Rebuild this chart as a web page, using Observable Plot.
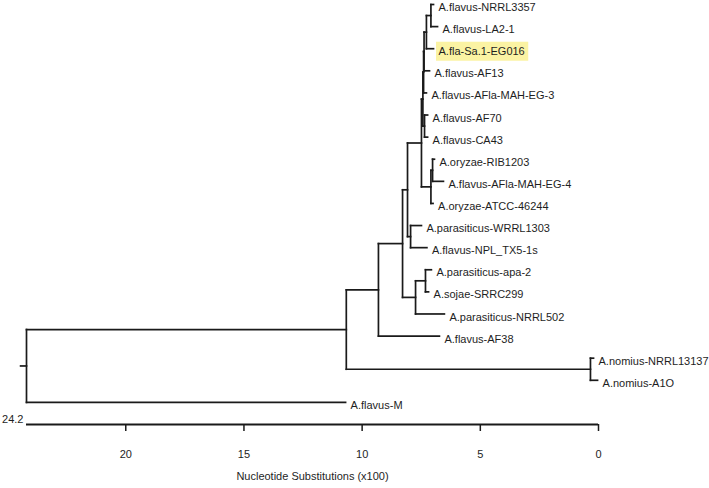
<!DOCTYPE html>
<html><head><meta charset="utf-8">
<script src="https://cdn.jsdelivr.net/npm/d3@7"></script>
<script src="https://cdn.jsdelivr.net/npm/@observablehq/plot@0.6"></script>
<style>
body{margin:0;background:#fff;}
</style></head><body><div id="chart"></div>
<script>
// Leaves (top to bottom) and their branch-tip positions (nucleotide substitutions x100)
const leafNames = [
  "A.flavus-NRRL3357","A.flavus-LA2-1","A.fla-Sa.1-EG016","A.flavus-AF13",
  "A.flavus-AFla-MAH-EG-3","A.flavus-AF70","A.flavus-CA43","A.oryzae-RIB1203",
  "A.flavus-AFla-MAH-EG-4","A.oryzae-ATCC-46244","A.parasiticus-WRRL1303",
  "A.flavus-NPL_TX5-1s","A.parasiticus-apa-2","A.sojae-SRRC299",
  "A.parasiticus-NRRL502","A.flavus-AF38","A.nomius-NRRL13137","A.nomius-A1O","A.flavus-M"
];
const leafDist = [6.98,6.81,6.98,7.15,7.28,7.23,7.23,6.94,6.56,7.00,7.49,7.26,7.07,7.19,6.52,6.73,0.21,0.04,10.70];

// Internal nodes (children listed before parents), with node positions
const nodeIds = ["n1","n2","n3","n4","n5","U","pr","O","F","W","P","AS","Q","Q2","R","N","S","root"];
const nodeChildren = [
  ["A.flavus-NRRL3357","A.flavus-LA2-1"],
  ["n1","A.fla-Sa.1-EG016"],
  ["n2","A.flavus-AF13"],
  ["n3","A.flavus-AFla-MAH-EG-3"],
  ["A.flavus-AF70","A.flavus-CA43"],
  ["n4","n5"],
  ["A.oryzae-RIB1203","A.flavus-AFla-MAH-EG-4"],
  ["pr","A.oryzae-ATCC-46244"],
  ["U","O"],
  ["A.parasiticus-WRRL1303","A.flavus-NPL_TX5-1s"],
  ["F","W"],
  ["A.parasiticus-apa-2","A.sojae-SRRC299"],
  ["AS","A.parasiticus-NRRL502"],
  ["P","Q"],
  ["Q2","A.flavus-AF38"],
  ["A.nomius-NRRL13137","A.nomius-A1O"],
  ["R","N"],
  ["S","A.flavus-M"]
];
const nodeDist = [7.09,7.28,7.38,7.40,7.36,7.43,7.02,7.09,7.49,7.95,8.08,7.32,7.74,8.29,9.31,0.34,10.67,24.2];
const rootStub = 0.25;
const axisMax = 24.2;
const tickValues = [20,15,10,5,0];
const highlightLeaf = "A.fla-Sa.1-EG016";
const axisTitle = "Nucleotide Substitutions (x100)";

// Layout: leaf rows by index, internal node y = mean of children
const pos = new Map();
leafNames.forEach((n,i)=>pos.set(n,{x:leafDist[i], y:i}));
const segs = [];
nodeIds.forEach((id,k)=>{
  const ch = nodeChildren[k].map(c=>pos.get(c));
  const x = nodeDist[k];
  const ys = ch.map(c=>c.y);
  const y = d3.mean(ys);
  segs.push({x1:x,x2:x,y1:d3.min(ys),y2:d3.max(ys)});
  ch.forEach(c=>segs.push({x1:x,x2:c.x,y1:c.y,y2:c.y}));
  pos.set(id,{x,y});
});
const root = pos.get("root");
segs.push({x1:root.x+rootStub, x2:root.x, y1:root.y, y2:root.y});

const plot = Plot.plot({
  width:709, height:488,
  marginLeft:26, marginRight:111, marginTop:4, marginBottom:64,
  style:{fontFamily:"'Liberation Sans', Arial, sans-serif", fontSize:"11px", color:"#1e1e1e", background:"#fff"},
  x:{domain:[axisMax,0]},
  y:{domain:[0,19], reverse:true, axis:null},
  marks:[
    Plot.link(segs,{x1:"x1",y1:"y1",x2:"x2",y2:"y2",stroke:"#1a1a1a",strokeWidth:1.7,strokeLinecap:"square"}),
    Plot.text(leafNames,{x:(d,i)=>leafDist[i], y:(d,i)=>i, text:d=>d, textAnchor:"start", dx:5, dy:3, fill:"#1e1e1e"}),
    Plot.ruleY([{y:19,x1:axisMax,x2:0}],{y:"y",x1:"x1",x2:"x2",stroke:"#1a1a1a",strokeWidth:1.8}),
    Plot.axisX(tickValues,{anchor:"bottom", tickSize:7, tickPadding:19, label:null, stroke:"#1a1a1a", strokeWidth:1.5, fill:"#1e1e1e"}),
    Plot.text([axisMax],{x:d=>d, y:()=>19, text:d=>String(d), textAnchor:"end", dx:-3, dy:-5, fill:"#1e1e1e"}),
    Plot.text([axisTitle],{frameAnchor:"bottom", text:d=>d, dy:55, fill:"#1e1e1e"})
  ]
});
document.getElementById("chart").appendChild(plot);

// Highlight box behind the highlighted leaf label
plot.querySelectorAll("text").forEach(t=>{
  if (t.textContent === highlightLeaf) {
    const bb = t.getBBox();
    const r = document.createElementNS("http://www.w3.org/2000/svg","rect");
    r.setAttribute("x", bb.x-2.5);
    r.setAttribute("y", bb.y-3.5);
    r.setAttribute("width", bb.width+6);
    r.setAttribute("height", bb.height+7);
    r.setAttribute("fill", "#fbf3a3");
    const tr = t.getAttribute("transform");
    if (tr) r.setAttribute("transform", tr);
    t.parentNode.insertBefore(r, t.parentNode.firstChild);
  }
});
</script></body></html>
